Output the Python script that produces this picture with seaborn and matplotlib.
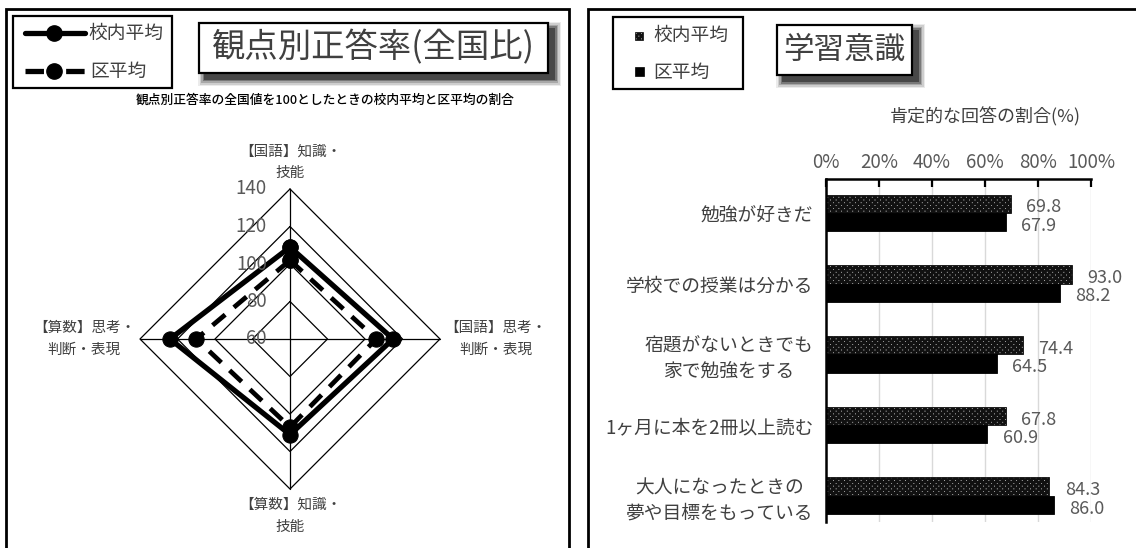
import numpy as np
import pandas as pd
import matplotlib
matplotlib.use("Agg")
import matplotlib.pyplot as plt
from matplotlib.patches import Rectangle
from matplotlib.lines import Line2D
import seaborn as sns

# ---------------- data ----------------
radar_categories = ["【国語】知識・\n技能", "【国語】思考・\n判断・表現",
                    "【算数】知識・\n技能", "【算数】思考・\n判断・表現"]
radar_school = [109, 115, 111, 124]
radar_ward = [102, 106, 107, 110]
radar_ticks = [60, 80, 100, 120, 140]

bar_categories = ["勉強が好きだ", "学校での授業は分かる", "宿題がないときでも\n家で勉強をする",
                  "1ヶ月に本を2冊以上読む", "大人になったときの\n夢や目標をもっている"]
bar_school = [69.8, 93.0, 74.4, 67.8, 84.3]
bar_ward = [67.9, 88.2, 64.5, 60.9, 86.0]
bar_ticks = [0, 20, 40, 60, 80, 100]
series_names = ["校内平均", "区平均"]

# ---------------- style ----------------
sns.set_theme(style="white")
plt.rcParams['font.family'] = ['Noto Sans CJK JP', 'DejaVu Sans']
plt.rcParams['hatch.linewidth'] = 2.0

W, H = 1136, 548
fig = plt.figure(figsize=(W / 100, H / 100), dpi=100)
fig.patch.set_facecolor("white")

def fx(x):
    return x / W

def fy(y):
    return 1 - y / H

GRAY = "#595959"
DARK = "#404040"

def frame(x0, y0, x1, y1, lw=2.0, z=1):
    r = Rectangle((fx(x0), fy(y1)), fx(x1) - fx(x0), fy(y0) - fy(y1),
                  transform=fig.transFigure, facecolor="none", edgecolor="black",
                  lw=lw, zorder=z)
    fig.add_artist(r)

def shadow_box(x0, y0, x1, y1, text, fs):
    # soft shadow (layered translucent rectangles)
    for d, a in [(7, 0.08), (5.5, 0.12), (4, 0.18), (2.5, 0.28), (1, 0.4)]:
        s = Rectangle((fx(x0 + 6 - d), fy(y1 + 6 + d)),
                      fx(x1 - x0 + 2 * d), fy(0) - fy(y1 - y0 + 2 * d),
                      transform=fig.transFigure, facecolor="black", edgecolor="none",
                      alpha=a, zorder=2)
        fig.add_artist(s)
    r = Rectangle((fx(x0), fy(y1)), fx(x1) - fx(x0), fy(y0) - fy(y1),
                  transform=fig.transFigure, facecolor="white", edgecolor="black",
                  lw=1.6, zorder=3)
    fig.add_artist(r)
    fig.text(fx((x0 + x1) / 2), fy((y0 + y1) / 2), text, ha="center", va="center",
             fontsize=fs, color=DARK, zorder=4)

# panel borders
frame(6, 9, 569, 600)
frame(588, 9, 1160, 600)

# ---------------- left: radar ----------------
cx, cy, R = 290, 339, 150
rmin, rmax = radar_ticks[0], radar_ticks[-1]
span = rmax - rmin
axr = fig.add_axes([fx(cx - R), fy(cy + R), fx(2 * R), fy(0) - fy(2 * R)])
axr.set_xlim(-span, span)
axr.set_ylim(-span, span)
axr.set_aspect("equal")
axr.axis("off")

n = len(radar_categories)
theta = np.arange(n) * 2 * np.pi / n

def to_xy(vals):
    r = np.asarray(vals, float) - rmin
    x = r * np.sin(theta)
    y = r * np.cos(theta)
    return np.append(x, x[0]), np.append(y, y[0])

for t in radar_ticks[1:]:
    gx, gy = to_xy([t] * n)
    axr.plot(gx, gy, color="black", lw=0.9, zorder=1)
for th in theta:
    axr.plot([0, span * np.sin(th)], [0, span * np.cos(th)], color="black", lw=0.9, zorder=1)

for t in radar_ticks:
    axr.text(-span * 0.155, t - rmin, str(t), ha="right", va="center",
             fontsize=13.5, color=GRAY, zorder=5)

sx, sy = to_xy(radar_school)
wx, wy = to_xy(radar_ward)
df_s = pd.DataFrame({"x": sx, "y": sy})
df_w = pd.DataFrame({"x": wx, "y": wy})
sns.lineplot(data=df_s, x="x", y="y", sort=False, estimator=None, ax=axr, color="black",
             lw=3.8, marker="o", markersize=11, markeredgecolor="black", zorder=3)
sns.lineplot(data=df_w, x="x", y="y", sort=False, estimator=None, ax=axr, color="black",
             lw=3.4, marker="o", markersize=11, markeredgecolor="black", zorder=3,
             dashes=(3.5, 2.4))
for l in axr.lines:
    l.set_clip_on(False)

# axis category labels
lab_kw = dict(fontsize=10.5, color=DARK, linespacing=1.7, multialignment="center")
off = span * 0.06
axr.text(0, span + off, radar_categories[0], ha="center", va="bottom", **lab_kw)
axr.text(span + off * 0.5, 0, radar_categories[1], ha="left", va="center", **lab_kw)
axr.text(0, -span - off, radar_categories[2], ha="center", va="top", **lab_kw)
axr.text(-span - off * 0.5, 0, radar_categories[3], ha="right", va="center", **lab_kw)

# left legend
frame(13, 16, 172, 88, lw=1.6)
fig.add_artist(Line2D([fx(25), fx(85)], [fy(33), fy(33)], transform=fig.transFigure,
                      color="black", lw=3.8))
fig.add_artist(Line2D([fx(54)], [fy(33)], transform=fig.transFigure, marker="o",
                      markersize=11, color="black"))
fig.add_artist(Line2D([fx(25), fx(85)], [fy(71), fy(71)], transform=fig.transFigure,
                      color="black", lw=3.8, dashes=(3.5, 4.2)))
fig.add_artist(Line2D([fx(54)], [fy(71)], transform=fig.transFigure, marker="o",
                      markersize=11, color="black"))
fig.text(fx(88), fy(33), series_names[0], ha="left", va="center", fontsize=13.5, color=DARK)
fig.text(fx(90), fy(71), series_names[1], ha="left", va="center", fontsize=13.5, color=DARK)

shadow_box(199, 23, 548, 73, "観点別正答率(全国比)", 24)
fig.text(fx(325), fy(100), "観点別正答率の全国値を100としたときの校内平均と区平均の割合",
         ha="center", va="center", fontsize=9.2, color="black", fontweight="medium")

# ---------------- right: bars ----------------
x0p, x1p, y0p, y1p = 826, 1091, 179, 522
axb = fig.add_axes([fx(x0p), fy(y1p), fx(x1p - x0p), fy(y0p) - fy(y1p)])
df_b = pd.DataFrame({
    "cat": bar_categories * 2,
    "val": bar_school + bar_ward,
    "series": [series_names[0]] * len(bar_categories) + [series_names[1]] * len(bar_categories),
})
sns.barplot(data=df_b, y="cat", x="val", hue="series", orient="h", ax=axb,
            palette=["#b0b0b0", "black"], width=0.52, gap=0, legend=False,
            edgecolor="black", linewidth=0.6, saturation=1)
for bar in axb.containers[0]:
    bar.set_hatch("xxxxxx")
    bar.set_edgecolor("#111111")
for ci, cont in enumerate(axb.containers):
    anns = axb.bar_label(cont, fmt="%.1f", padding=11, fontsize=13, color=GRAY)
    for a in anns:
        a.xyann = (11, -2.6)

axb.set_xlim(0, 100)
axb.set_ylim(4.37, -0.48)
axb.set_xticks(bar_ticks)
axb.set_xticklabels([f"{t}%" for t in bar_ticks])
axb.xaxis.tick_top()
axb.tick_params(axis="x", direction="in", length=6, width=1.6, color="black",
                labelsize=13.5, labelcolor=GRAY, pad=4.5, top=True, bottom=False)
axb.tick_params(axis="y", length=0, labelsize=13.5, labelcolor=DARK, pad=9)
for lab in axb.get_yticklabels():
    lab.set_multialignment("center")
    lab.set_linespacing(1.25)
axb.set_xlabel("")
axb.set_ylabel("")
axb.grid(axis="x", color="#d9d9d9", lw=1)
axb.set_axisbelow(True)
for s in ["right", "bottom"]:
    axb.spines[s].set_visible(False)
axb.spines["top"].set_color("black")
axb.spines["top"].set_linewidth(1.8)
axb.spines["left"].set_color("black")
axb.spines["left"].set_linewidth(1.8)
axb.patch.set_alpha(0)

# right legend
frame(613, 17, 743, 89, lw=1.6)
fig.add_artist(Rectangle((fx(635), fy(40)), fx(8), fy(0) - fy(8), transform=fig.transFigure,
                         facecolor="#b0b0b0", edgecolor="#111111", hatch="xxxxxx", lw=0.5))
fig.add_artist(Rectangle((fx(635), fy(76)), fx(9), fy(0) - fy(9), transform=fig.transFigure,
                         facecolor="black", edgecolor="black", lw=0.5))
fig.text(fx(653), fy(35), series_names[0], ha="left", va="center", fontsize=13.5, color=DARK)
fig.text(fx(653), fy(72), series_names[1], ha="left", va="center", fontsize=13.5, color=DARK)

shadow_box(777, 25, 912, 75, "学習意識", 22)
fig.text(fx(985), fy(117), "肯定的な回答の割合(%)", ha="center", va="center",
         fontsize=13, color=DARK)

fig.savefig("out.png", dpi=100, facecolor="white")
